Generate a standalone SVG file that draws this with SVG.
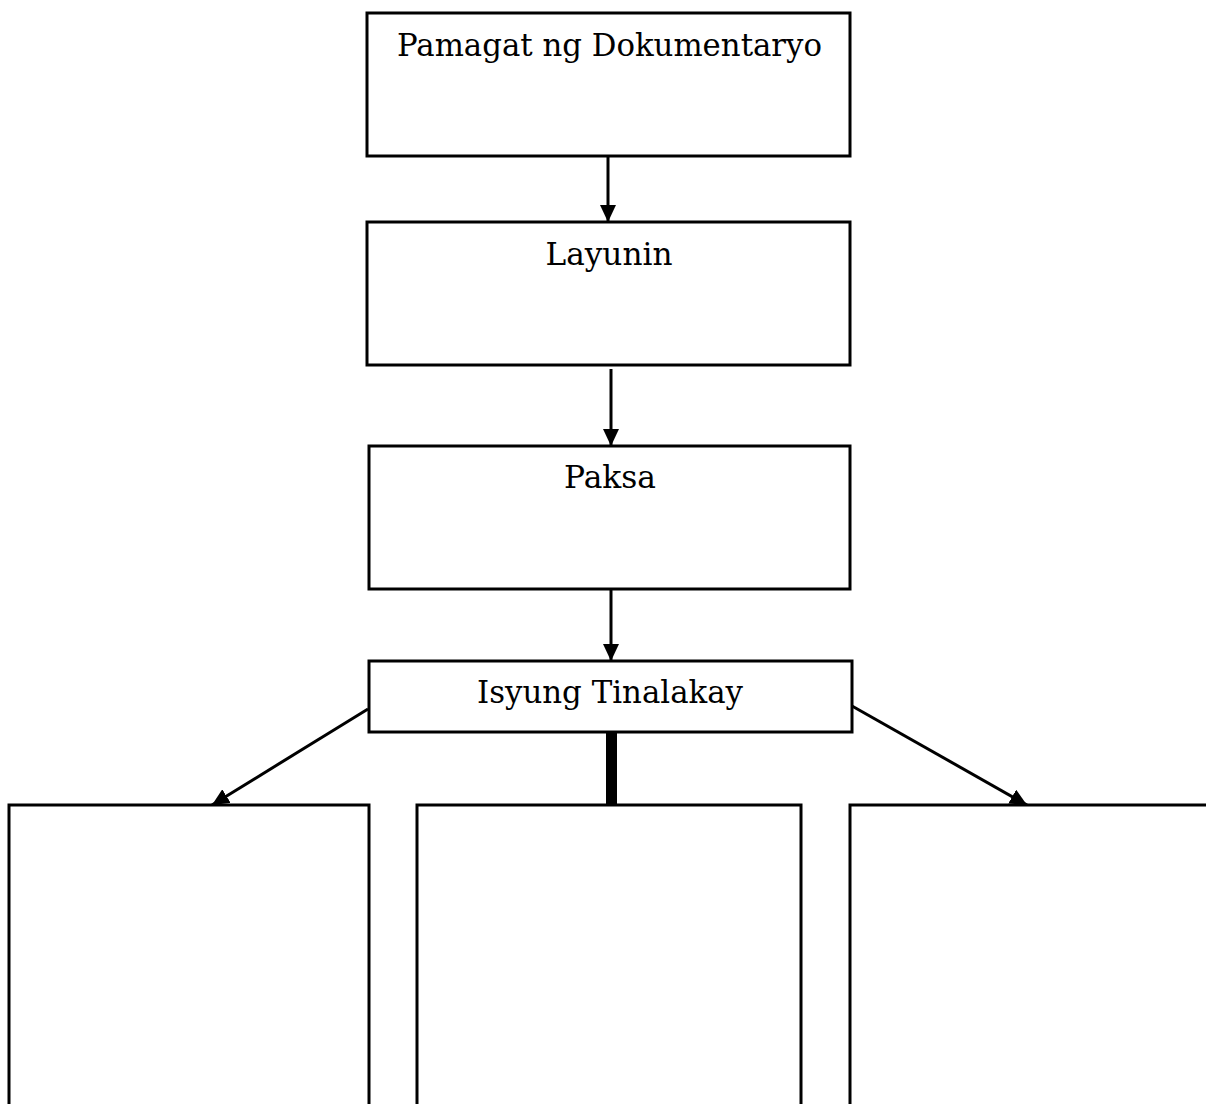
<svg xmlns="http://www.w3.org/2000/svg" width="1206" height="1104" viewBox="0 0 1206 1104">
  <style>
    .box { fill: #ffffff; stroke: #000000; stroke-width: 3; }
    .lbl { font-family: "DejaVu Serif", "Liberation Serif", serif; font-size: 31px; fill: #000000; text-anchor: middle; }
    .conn { stroke: #000000; stroke-width: 3; fill: none; }
  </style>
  <defs>
    <marker id="arrow" markerUnits="userSpaceOnUse" markerWidth="17" markerHeight="16" refX="17" refY="8" orient="auto">
      <path d="M0,0 L17,8 L0,16 z" fill="#000000"/>
    </marker>
  </defs>
  <rect width="1206" height="1104" fill="#ffffff"/>
  <g id="connectors">
    <line class="conn" x1="608" y1="157" x2="608" y2="222" marker-end="url(#arrow)"/>
    <line class="conn" x1="611" y1="369" x2="611" y2="446" marker-end="url(#arrow)"/>
    <line class="conn" x1="611" y1="590" x2="611" y2="661" marker-end="url(#arrow)"/>
    <line class="conn" x1="368" y1="709" x2="212" y2="805" marker-end="url(#arrow)"/>
    <line class="conn" x1="852" y1="706" x2="1027" y2="805" marker-end="url(#arrow)"/>
    <rect x="606" y="733" width="11" height="72" fill="#000000"/>
  </g>
  <g id="node-pamagat">
    <rect class="box" x="367" y="13" width="483" height="143"/>
    <text class="lbl" x="609.5" y="56" textLength="425" lengthAdjust="spacingAndGlyphs">Pamagat ng Dokumentaryo</text>
  </g>
  <g id="node-layunin">
    <rect class="box" x="367" y="222" width="483" height="143"/>
    <text class="lbl" x="609" y="265" textLength="127" lengthAdjust="spacingAndGlyphs">Layunin</text>
  </g>
  <g id="node-paksa">
    <rect class="box" x="369" y="446" width="481" height="143"/>
    <text class="lbl" x="610" y="488" textLength="92" lengthAdjust="spacingAndGlyphs">Paksa</text>
  </g>
  <g id="node-isyung">
    <rect class="box" x="369" y="661" width="483" height="71"/>
    <text class="lbl" x="610" y="703" textLength="266" lengthAdjust="spacingAndGlyphs">Isyung Tinalakay</text>
  </g>
  <g id="node-left">
    <rect class="box" x="9" y="805" width="360" height="330"/>
  </g>
  <g id="node-middle">
    <rect class="box" x="417" y="805" width="384" height="330"/>
  </g>
  <g id="node-right">
    <rect class="box" x="850" y="805" width="380" height="330"/>
  </g>
</svg>
